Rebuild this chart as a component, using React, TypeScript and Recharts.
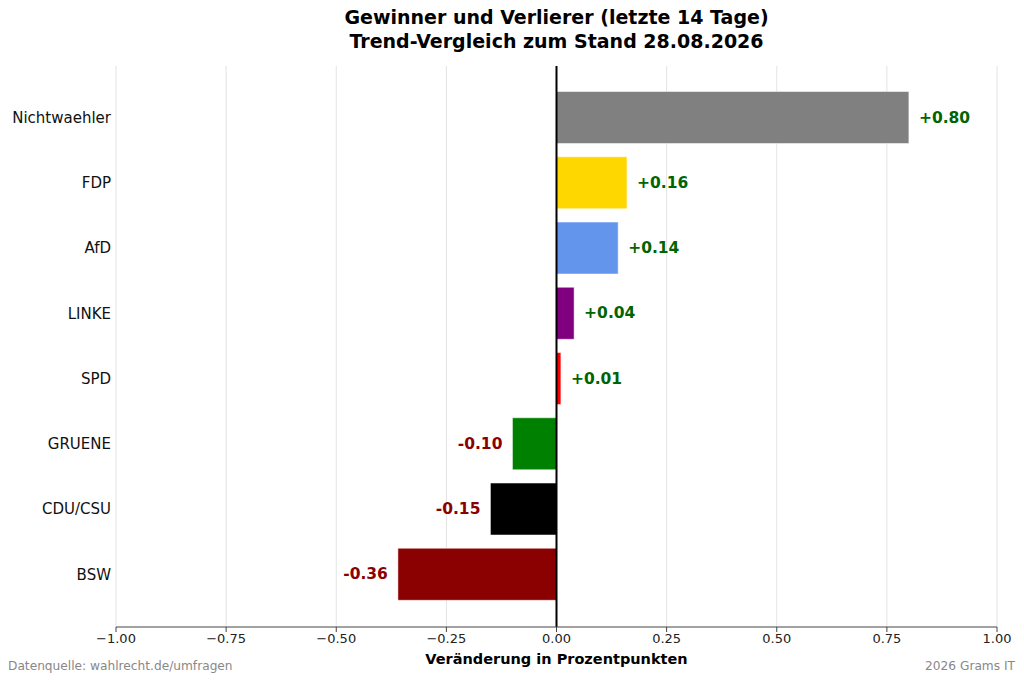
import { Bar, BarChart, CartesianGrid, Cell, LabelList, ReferenceLine, XAxis, YAxis } from "recharts";

const parties = ["Nichtwaehler", "FDP", "AfD", "LINKE", "SPD", "GRUENE", "CDU/CSU", "BSW"];
const changes = [0.8, 0.16, 0.14, 0.04, 0.01, -0.1, -0.15, -0.36];
const barColors = ["#808080", "#FFD700", "#6495ED", "#800080", "#FF0000", "#008000", "#000000", "#8B0000"];
const xTicks = [-1, -0.75, -0.5, -0.25, 0, 0.25, 0.5, 0.75, 1];

const FONT = "'DejaVu Sans', Verdana, sans-serif";

const chartData = parties.map((name, i) => ({ name, change: changes[i] }));

const formatTick = (v: number) => (v < 0 ? "\u2212" + Math.abs(v).toFixed(2) : v.toFixed(2));

function ValueLabel(props: any) {
  const { x, y, width, height, value } = props;
  const left = Math.min(x, x + width);
  const right = Math.max(x, x + width);
  const positive = value >= 0;
  return (
    <text
      x={positive ? right + 10 : left - 10}
      y={y + height / 2}
      textAnchor={positive ? "start" : "end"}
      dominantBaseline="central"
      fontFamily={FONT}
      fontWeight="bold"
      fontSize={15.5}
      fill={positive ? "#006400" : "#8B0000"}
    >
      {(positive ? "+" : "-") + Math.abs(value).toFixed(2)}
    </text>
  );
}

export default function App() {
  return (
    <div style={{ position: "fixed", left: 0, top: 0, width: 1024, height: 682, background: "#fff", fontFamily: FONT }}>
      <div
        style={{
          position: "absolute",
          left: 116,
          width: 881,
          top: 5,
          textAlign: "center",
          fontWeight: "bold",
          fontSize: 19,
          lineHeight: "24px",
          color: "#000",
        }}
      >
        Gewinner und Verlierer (letzte 14 Tage)
        <br />
        Trend-Vergleich zum Stand 28.08.2026
      </div>
      <BarChart
        width={1024}
        height={682}
        data={chartData}
        layout="vertical"
        margin={{ top: 66, right: 27, left: 0, bottom: 25 }}
        barCategoryGap="10%"
      >
        <CartesianGrid horizontal={false} stroke="#e3e3e3" strokeWidth={1} />
        <XAxis
          type="number"
          domain={[-1, 1]}
          ticks={xTicks}
          tickFormatter={formatTick}
          height={30}
          stroke="#444"
          tickSize={5}
          tick={{ fontSize: 13, fill: "#222", fontFamily: FONT }}
          interval={0}
        />
        <YAxis
          type="category"
          dataKey="name"
          width={116}
          axisLine={false}
          tickLine={false}
          tickSize={0}
          tickMargin={5}
          padding={{ top: 19, bottom: 20 }}
          tick={{ fontSize: 15, fill: "#111", fontFamily: FONT }}
          interval={0}
        />
        <Bar dataKey="change" isAnimationActive={false} stroke="#ffffff" strokeOpacity={0.5} strokeWidth={1}>
          {chartData.map((d, i) => (
            <Cell key={d.name} fill={barColors[i]} />
          ))}
          <LabelList dataKey="change" content={<ValueLabel />} />
        </Bar>
        <ReferenceLine x={0} stroke="#000" strokeWidth={2} ifOverflow="extendDomain" />
      </BarChart>
      <div
        style={{
          position: "absolute",
          left: 116,
          width: 881,
          top: 651,
          textAlign: "center",
          fontWeight: "bold",
          fontSize: 14.5,
          color: "#000",
        }}
      >
        Veränderung in Prozentpunkten
      </div>
      <div style={{ position: "absolute", left: 8, top: 659, fontSize: 12.2, color: "#888" }}>
        Datenquelle: wahlrecht.de/umfragen
      </div>
      <div style={{ position: "absolute", right: 9, top: 659, fontSize: 12.2, color: "#888" }}>2026 Grams IT</div>
    </div>
  );
}
